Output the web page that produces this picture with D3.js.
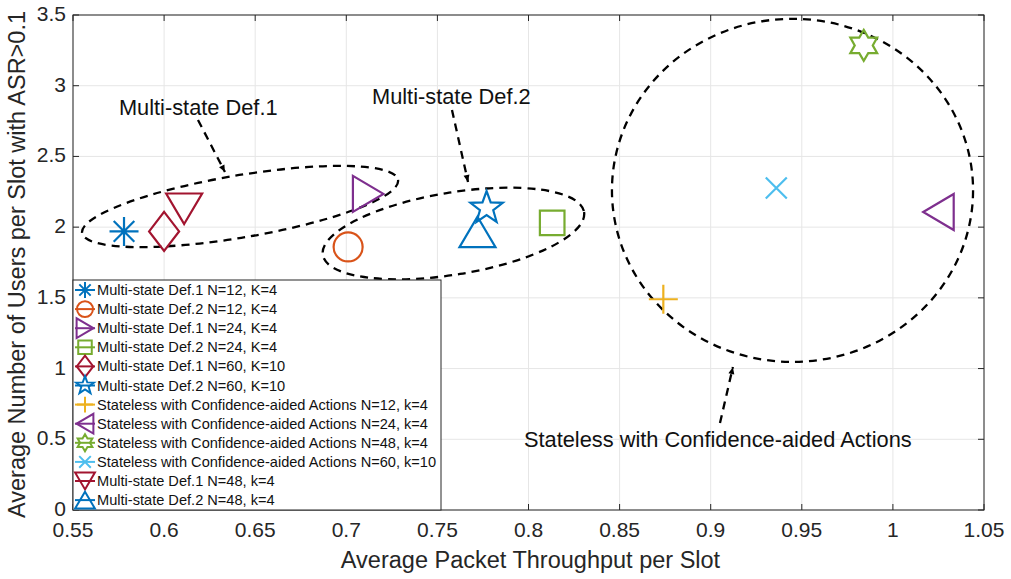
<!DOCTYPE html>
<html>
<head>
<meta charset="utf-8">
<script src="https://cdn.jsdelivr.net/npm/d3@7"></script>
<style>
  body { margin: 0; background: #fff; }
  svg { font-family: "Liberation Sans", Arial, sans-serif; }
  .grid line { stroke: #e6e6e6; stroke-width: 1; }
  .tickLabel { fill: #262626; font-size: 21px; }
  .axisTitle { fill: #262626; font-size: 23.5px; }
  .note { fill: #111; font-size: 21.8px; }
  .legendText { fill: #111; font-size: 14.6px; }
</style>
</head>
<body>
<svg id="chart" width="1011" height="579"></svg>
<script>
/* ==== Data ==== */
var seriesNames = [
  "Multi-state Def.1 N=12, K=4",
  "Multi-state Def.2 N=12, K=4",
  "Multi-state Def.1 N=24, K=4",
  "Multi-state Def.2 N=24, K=4",
  "Multi-state Def.1 N=60, K=10",
  "Multi-state Def.2 N=60, K=10",
  "Stateless with Confidence-aided Actions N=12, k=4",
  "Stateless with Confidence-aided Actions N=24, k=4",
  "Stateless with Confidence-aided Actions N=48, k=4",
  "Stateless with Confidence-aided Actions N=60, k=10",
  "Multi-state Def.1 N=48, k=4",
  "Multi-state Def.2 N=48, k=4"
];
var throughput = [0.578, 0.701, 0.712, 0.813, 0.600, 0.777, 0.874, 1.025, 0.984, 0.936, 0.611, 0.772];
var users      = [1.97, 1.86, 2.235, 2.03, 1.97, 2.135, 1.49, 2.107, 3.285, 2.277, 2.13, 1.966];
var markers    = ["asterisk", "circle", "right", "square", "diamond", "pentagram", "plus", "left", "hexagram", "cross", "down", "up"];
var colors     = ["#0072BD", "#D95319", "#7E2F8E", "#77AC30", "#A2142F", "#0072BD", "#EDB120", "#7E2F8E", "#77AC30", "#4DBEEE", "#A2142F", "#0072BD"];

var xTicks = [0.55, 0.6, 0.65, 0.7, 0.75, 0.8, 0.85, 0.9, 0.95, 1, 1.05];
var yTicks = [0, 0.5, 1, 1.5, 2, 2.5, 3, 3.5];

// group annotations, in data units: center, end of the long axis, short radius (y units)
var groupLabels = ["Multi-state Def.1", "Multi-state Def.2", "Stateless with Confidence-aided Actions"];
var labelAt     = [[0.5752, 2.793], [0.7141, 2.871], [0.7975, 0.4455]];
var arrowFrom   = [[0.6186, 2.758], [0.758, 2.829], [0.9051, 0.615]];
var arrowTo     = [[0.6334, 2.39], [0.7668, 2.32], [0.9122, 1.011]];
var ringCenter  = [[0.6417, 2.146], [0.7588, 1.955], [0.9449, 2.26]];
var ringEnd     = [[0.7284, 2.334], [0.8305, 2.107], [1.0440, 2.26]];
var ringMinor   = [0.22, 0.29, 1.213];

/* ==== Layout ==== */
var LEFT = 73, RIGHT = 984, TOP = 15, BOTTOM = 510;
var svg = d3.select("#chart");
var x = d3.scaleLinear().domain([0.55, 1.05]).range([LEFT, RIGHT]);
var y = d3.scaleLinear().domain([0, 3.5]).range([BOTTOM, TOP]);
var fmt = d => String(+d.toFixed(2));

/* ==== Grid ==== */
var grid = svg.append("g").attr("class", "grid");
grid.selectAll(".gx").data(xTicks).enter().append("line")
    .attr("x1", d => x(d)).attr("x2", d => x(d)).attr("y1", TOP).attr("y2", BOTTOM);
grid.selectAll(".gy").data(yTicks).enter().append("line")
    .attr("y1", d => y(d)).attr("y2", d => y(d)).attr("x1", LEFT).attr("x2", RIGHT);

/* ==== Axes (MATLAB style box, inward ticks) ==== */
var TICK = 6;
var axisG = svg.append("g").attr("stroke", "#262626").attr("stroke-width", 1).attr("fill", "none");
axisG.append("rect").attr("x", LEFT).attr("y", TOP).attr("width", RIGHT - LEFT).attr("height", BOTTOM - TOP);
xTicks.forEach(function(t) {
  axisG.append("line").attr("x1", x(t)).attr("x2", x(t)).attr("y1", BOTTOM).attr("y2", BOTTOM - TICK);
  axisG.append("line").attr("x1", x(t)).attr("x2", x(t)).attr("y1", TOP).attr("y2", TOP + TICK);
});
yTicks.forEach(function(t) {
  axisG.append("line").attr("y1", y(t)).attr("y2", y(t)).attr("x1", LEFT).attr("x2", LEFT + TICK);
  axisG.append("line").attr("y1", y(t)).attr("y2", y(t)).attr("x1", RIGHT).attr("x2", RIGHT - TICK);
});

svg.append("g").selectAll("text").data(xTicks).enter().append("text")
   .attr("class", "tickLabel").attr("text-anchor", "middle")
   .attr("x", d => x(d)).attr("y", BOTTOM + 27).text(fmt);
svg.append("g").selectAll("text").data(yTicks).enter().append("text")
   .attr("class", "tickLabel").attr("text-anchor", "end")
   .attr("x", LEFT - 7).attr("y", d => y(d) + 6).text(fmt);

svg.append("text").attr("class", "axisTitle").attr("text-anchor", "middle")
   .attr("x", (LEFT + RIGHT) / 2 + 2).attr("y", BOTTOM + 58)
   .text("Average Packet Throughput per Slot");
svg.append("text").attr("class", "axisTitle").attr("text-anchor", "middle")
   .attr("transform", "translate(25," + ((TOP + BOTTOM) / 2 + 2) + ") rotate(-90)")
   .text("Average Number of Users per Slot with ASR>0.1");

/* ==== Marker shapes ==== */
function tri(dir, base, height) {
  var b = base / 2, h = height / 2;
  var pts = {
    up:    [[0, -h], [b, h], [-b, h]],
    down:  [[0, h], [b, -h], [-b, -h]],
    right: [[h, 0], [-h, -b], [-h, b]],
    left:  [[-h, 0], [h, -b], [h, b]]
  }[dir];
  return "M" + pts.map(p => p.join(",")).join("L") + "Z";
}
function star(n, R, r, rot) {
  var p = [];
  for (var i = 0; i < 2 * n; i++) {
    var a = rot + i * Math.PI / n, rad = i % 2 ? r : R;
    p.push([rad * Math.sin(a), -rad * Math.cos(a)]);
  }
  return "M" + p.map(q => q[0].toFixed(2) + "," + q[1].toFixed(2)).join("L") + "Z";
}
function markerPath(kind, k) {
  switch (kind) {
    case "asterisk": {
      var a = 14.5 * k, d = 10.3 * k;
      return "M" + -a + ",0H" + a + "M0," + -a + "V" + a +
             "M" + -d + "," + -d + "L" + d + "," + d + "M" + -d + "," + d + "L" + d + "," + -d;
    }
    case "circle": {
      var r = 14.5 * k;
      return "M" + -r + ",0A" + r + "," + r + " 0 1,0 " + r + ",0A" + r + "," + r + " 0 1,0 " + -r + ",0Z";
    }
    case "square": { var s = 12.3 * k; return "M" + -s + "," + -s + "H" + s + "V" + s + "H" + -s + "Z"; }
    case "diamond": { var w = 15 * k, h = 19.5 * k; return "M0," + -h + "L" + w + ",0L0," + h + "L" + -w + ",0Z"; }
    case "pentagram": return star(5, 17 * k, 7 * k, 0);
    case "hexagram": return star(6, 15.5 * k, 9 * k, 0);
    case "plus": { var p = 14.5 * k; return "M" + -p + ",0H" + p + "M0," + -p + "V" + p; }
    case "cross": { var c = 10.5 * k; return "M" + -c + "," + -c + "L" + c + "," + c + "M" + -c + "," + c + "L" + c + "," + -c; }
    default: return tri(kind, 36 * k, 30.5 * k);
  }
}

/* ==== Group annotations ==== */
var notes = svg.append("g").attr("fill", "none").attr("stroke", "#000")
               .attr("stroke-width", 2.3).attr("stroke-dasharray", "8,6");
groupLabels.forEach(function(lbl, i) {
  var cx = x(ringCenter[i][0]), cy = y(ringCenter[i][1]);
  var ex = x(ringEnd[i][0]), ey = y(ringEnd[i][1]);
  var a = Math.hypot(ex - cx, ey - cy);
  var ang = Math.atan2(ey - cy, ex - cx) * 180 / Math.PI;
  var b = y(0) - y(ringMinor[i]);
  notes.append("ellipse").attr("rx", a).attr("ry", b)
       .attr("transform", "translate(" + cx + "," + cy + ") rotate(" + ang + ")");

  var x1 = x(arrowFrom[i][0]), y1 = y(arrowFrom[i][1]);
  var x2 = x(arrowTo[i][0]), y2 = y(arrowTo[i][1]);
  notes.append("line").attr("x1", x1).attr("y1", y1).attr("x2", x2).attr("y2", y2);
  var th = Math.atan2(y2 - y1, x2 - x1), L = 7, W = 3;
  var bx = x2 - L * Math.cos(th), by = y2 - L * Math.sin(th);
  svg.append("path").attr("fill", "#000")
     .attr("d", "M" + x2 + "," + y2 +
                "L" + (bx + W * Math.sin(th)) + "," + (by - W * Math.cos(th)) +
                "L" + (bx - W * Math.sin(th)) + "," + (by + W * Math.cos(th)) + "Z");

  svg.append("text").attr("class", "note")
     .attr("x", x(labelAt[i][0])).attr("y", y(labelAt[i][1])).text(lbl);
});

/* ==== Points ==== */
svg.append("g").selectAll("path").data(seriesNames).enter().append("path")
   .attr("transform", (d, i) => "translate(" + x(throughput[i]) + "," + y(users[i]) + ")")
   .attr("d", (d, i) => markerPath(markers[i], 1))
   .attr("fill", "none").attr("stroke", (d, i) => colors[i])
   .attr("stroke-width", 2.2).attr("stroke-linejoin", "miter");

/* ==== Legend ==== */
var LEG_X = LEFT, LEG_Y = 280, LEG_W = 368, ROW = 19.1;
var legend = svg.append("g");
legend.append("rect").attr("x", LEG_X).attr("y", LEG_Y).attr("width", LEG_W).attr("height", BOTTOM - LEG_Y)
      .attr("fill", "#fff").attr("stroke", "#262626").attr("stroke-width", 1);
var rows = legend.selectAll(".row").data(seriesNames).enter().append("g")
      .attr("transform", (d, i) => "translate(" + (LEG_X + 12) + "," + (LEG_Y + 10 + i * ROW) + ")");
rows.append("line").attr("x1", -10).attr("x2", 10).attr("stroke", (d, i) => colors[i]).attr("stroke-width", 2);
rows.append("path").attr("d", (d, i) => markerPath(markers[i], 0.55))
    .attr("fill", "none").attr("stroke", (d, i) => colors[i]).attr("stroke-width", 2);
rows.append("text").attr("class", "legendText").attr("x", 12).attr("y", 5).text(d => d);
</script>
</body>
</html>
